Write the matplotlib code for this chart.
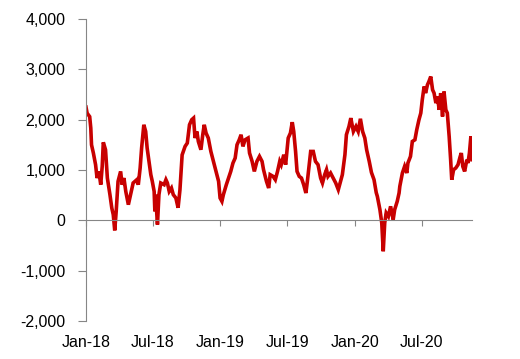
import matplotlib
matplotlib.use("Agg")
import matplotlib.pyplot as plt
import matplotlib.dates as mdates
from matplotlib.ticker import FuncFormatter
import pandas as pd

dates = [
    "2018-01-01", "2018-01-04", "2018-01-11", "2018-01-14", "2018-01-16", "2018-01-21", "2018-01-27", "2018-01-31",
    "2018-02-05", "2018-02-10", "2018-02-14", "2018-02-17", "2018-02-23", "2018-02-28", "2018-03-07", "2018-03-12",
    "2018-03-16", "2018-03-20", "2018-03-24", "2018-03-29", "2018-04-05", "2018-04-09", "2018-04-14", "2018-04-19",
    "2018-04-26", "2018-05-02", "2018-05-09", "2018-05-19", "2018-05-23", "2018-05-28", "2018-06-01", "2018-06-07",
    "2018-06-12", "2018-06-16", "2018-06-21", "2018-06-26", "2018-06-30", "2018-07-05", "2018-07-07", "2018-07-09",
    "2018-07-14", "2018-07-18", "2018-07-23", "2018-08-01", "2018-08-06", "2018-08-10", "2018-08-15", "2018-08-21",
    "2018-08-26", "2018-09-02", "2018-09-08", "2018-09-13", "2018-09-19", "2018-09-27", "2018-10-03", "2018-10-09",
    "2018-10-15", "2018-10-20", "2018-10-24", "2018-10-29", "2018-11-02", "2018-11-09", "2018-11-14", "2018-11-18",
    "2018-11-23", "2018-11-29", "2018-12-06", "2018-12-13", "2018-12-20", "2018-12-27", "2018-12-31", "2019-01-05",
    "2019-01-09", "2019-01-17", "2019-01-23", "2019-01-29", "2019-02-04", "2019-02-10", "2019-02-15", "2019-02-21",
    "2019-02-26", "2019-03-03", "2019-03-09", "2019-03-17", "2019-03-21", "2019-03-28", "2019-04-03", "2019-04-10",
    "2019-04-17", "2019-04-24", "2019-04-28", "2019-05-06", "2019-05-12", "2019-05-16", "2019-05-24", "2019-05-30",
    "2019-06-05", "2019-06-11", "2019-06-15", "2019-06-22", "2019-06-27", "2019-07-04", "2019-07-10", "2019-07-15",
    "2019-07-19", "2019-07-24", "2019-07-28", "2019-08-03", "2019-08-09", "2019-08-15", "2019-08-21", "2019-08-25",
    "2019-08-30", "2019-09-03", "2019-09-10", "2019-09-16", "2019-09-23", "2019-09-30", "2019-10-05", "2019-10-11",
    "2019-10-16", "2019-10-20", "2019-10-27", "2019-11-03", "2019-11-10", "2019-11-17", "2019-11-23", "2019-11-28",
    "2019-12-05", "2019-12-09", "2019-12-16", "2019-12-21", "2019-12-28", "2020-01-04", "2020-01-10", "2020-01-16",
    "2020-01-22", "2020-01-28", "2020-02-02", "2020-02-09", "2020-02-15", "2020-02-22", "2020-02-28", "2020-03-02",
    "2020-03-09", "2020-03-14", "2020-03-18", "2020-03-22", "2020-03-26", "2020-04-01", "2020-04-07", "2020-04-14",
    "2020-04-18", "2020-04-25", "2020-04-30", "2020-05-02", "2020-05-09", "2020-05-15", "2020-05-21", "2020-05-24",
    "2020-05-31", "2020-06-05", "2020-06-12", "2020-06-17", "2020-06-23", "2020-06-28", "2020-07-02", "2020-07-07",
    "2020-07-11", "2020-07-16", "2020-07-20", "2020-07-25", "2020-07-30", "2020-08-03", "2020-08-08", "2020-08-12",
    "2020-08-17", "2020-08-21", "2020-08-26", "2020-08-30", "2020-09-04", "2020-09-08", "2020-09-13", "2020-09-17",
    "2020-09-20", "2020-09-25", "2020-10-01", "2020-10-07", "2020-10-13", "2020-10-16", "2020-10-20", "2020-10-25",
    "2020-10-31", "2020-11-03", "2020-11-07", "2020-11-11", "2020-11-14",
]

values = [
    2250, 2130, 2060, 1833, 1500, 1337, 1105, 840,
    972, 708, 1071, 1550, 1403, 840, 510, 246,
    113, -200, 179, 774, 972, 708, 840, 575,
    311, 510, 742, 807, 708, 1040, 1436, 1899,
    1766, 1436, 1171, 907, 774, 575, 179, 510,
    -85, 510, 742, 708, 807, 742, 575, 642,
    510, 444, 250, 600, 1300, 1469, 1535, 1899,
    1998, 2031, 1635, 1766, 1567, 1403, 1701, 1899,
    1734, 1635, 1369, 1171, 972, 774, 444, 377,
    510, 708, 840, 972, 1138, 1237, 1501, 1600,
    1701, 1469, 1600, 1635, 1337, 1171, 972, 1171,
    1270, 1171, 1006, 774, 642, 907, 873, 807,
    972, 1171, 1105, 1304, 1105, 1635, 1734, 1950,
    1766, 1369, 972, 873, 840, 708, 543, 774,
    1105, 1369, 1369, 1171, 1105, 840, 742, 907,
    1006, 873, 940, 840, 742, 609, 774, 907,
    1304, 1701, 1866, 2031, 1766, 1866, 1766, 2018,
    1766, 1635, 1400, 1171, 950, 807, 550, 476,
    212, -52, -615, -52, 147, 79, 278, 14,
    212, 377, 543, 675, 940, 1071, 940, 1138,
    1270, 1567, 1600, 1800, 1998, 2131, 2395, 2659,
    2528, 2692, 2758, 2857, 2593, 2528, 2329, 2460,
    2196, 2528, 2063, 2559, 2196, 2131, 1667, 1204,
    807, 1006, 1040, 1105, 1270, 1337, 1071, 972,
    1204, 1138, 1337, 1667, 1204,
]

y_ticks = [-2000, -1000, 0, 1000, 2000, 3000, 4000]

plt.rcParams['font.family'] = ['Liberation Sans', 'DejaVu Sans']

x = pd.to_datetime(dates)

fig = plt.figure(figsize=(5.2, 3.59), dpi=100)
ax = fig.add_axes([86 / 520, 1 - 321 / 359, (472 - 86) / 520, (321 - 19) / 359])

ax.plot(x, values, color='#C80000', linewidth=2.6, solid_joinstyle='miter')

axis_grey = '#868686'
ax.set_ylim(y_ticks[0], y_ticks[-1])
ax.set_yticks(y_ticks)
ax.yaxis.set_major_formatter(FuncFormatter(lambda v, p: f"{int(v):,}"))
ax.set_xlim(x[0], x[-1])

for s in ['top', 'right']:
    ax.spines[s].set_visible(False)
ax.spines['left'].set_color(axis_grey)
ax.spines['bottom'].set_color(axis_grey)
ax.spines['bottom'].set_position(('data', 0))

fmt = mdates.DateFormatter('%b-%y')
ax.xaxis.set_major_locator(mdates.MonthLocator(bymonth=[1, 7]))
ax.tick_params(axis='x', direction='out', length=4, color=axis_grey, labelbottom=False)
ax.tick_params(axis='y', direction='out', length=6, color=axis_grey, labelsize=11.5, pad=9,
               labelcolor='#000000')

sec = ax.secondary_xaxis(0)
sec.xaxis.set_major_locator(mdates.MonthLocator(bymonth=[1, 7]))
sec.xaxis.set_major_formatter(fmt)
sec.spines['bottom'].set_visible(False)
sec.tick_params(axis='x', length=0, labelsize=11.5, pad=10, labelcolor='#000000')

fig.savefig('out.png', dpi=100, facecolor='white')
